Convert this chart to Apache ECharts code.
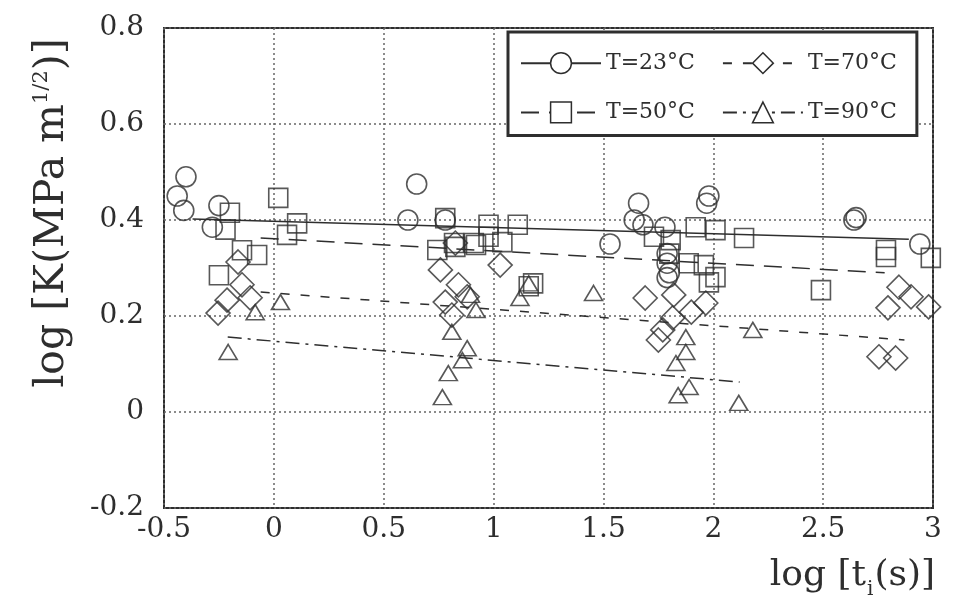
<!DOCTYPE html>
<html>
<head>
<meta charset="utf-8">
<script src="https://cdn.jsdelivr.net/npm/echarts@6/dist/echarts.min.js"></script>
<style>
  html, body { margin: 0; padding: 0; background: #fff; }
  #chart { width: 955px; height: 606px; }
</style>
</head>
<body>
<div id="chart"></div>
<script>
// log K vs log t_i, four temperatures
const legendNames = ['T=23°C', 'T=70°C', 'T=50°C', 'T=90°C']
const xTicks = [-0.5, 3, 0.5]   // min, max, step
const yTicks = [-0.2, 0.8, 0.2]

const t23 = [[-0.40,0.49],[-0.44,0.45],[-0.41,0.42],[-0.25,0.43],[-0.28,0.385],[0.61,0.40],[0.65,0.475],
  [0.78,0.40],[1.53,0.35],[1.64,0.40],[1.66,0.435],[1.68,0.39],[1.78,0.385],[1.79,0.33],[1.79,0.31],
  [1.80,0.29],[1.79,0.28],[1.97,0.435],[1.98,0.45],[2.64,0.40],[2.65,0.405],[2.94,0.35]]
const t50 = [[-0.25,0.285],[-0.22,0.38],[-0.20,0.415],[-0.145,0.337],[-0.076,0.327],[0.02,0.446],[0.06,0.369],
  [0.106,0.393],[0.744,0.3375],[0.78,0.404],[0.82,0.352],[0.826,0.344],[0.91,0.352],[0.92,0.348],[0.977,0.39],
  [0.977,0.365],[1.04,0.354],[1.11,0.39],[1.18,0.268],[1.16,0.262],[1.73,0.365],[1.806,0.358],[1.80,0.33],
  [1.888,0.31],[1.92,0.385],[1.957,0.306],[1.98,0.27],[2.01,0.379],[2.01,0.281],[2.14,0.3625],[2.49,0.254],
  [2.786,0.3375],[2.786,0.323],[2.99,0.321]]
const t70 = [[-0.254,0.206],[-0.213,0.233],[-0.163,0.3125],[-0.145,0.265],[-0.108,0.238],[0.758,0.296],
  [0.78,0.229],[0.81,0.202],[0.826,0.352],[0.84,0.265],[0.88,0.24],[1.03,0.306],[1.69,0.2375],[1.75,0.15],
  [1.77,0.171],[1.815,0.196],[1.82,0.244],[1.90,0.208],[1.966,0.227],[2.754,0.115],[2.795,0.217],[2.83,0.1125],
  [2.845,0.26],[2.90,0.24],[2.98,0.219]]
const t90 = [[-0.208,0.125],[-0.085,0.208],[0.03,0.229],[0.767,0.031],[0.794,0.081],[0.81,0.167],[0.858,0.108],
  [0.88,0.133],[0.895,0.244],[0.92,0.2125],[1.12,0.2375],[1.16,0.268],[1.455,0.248],[1.83,0.102],[1.84,0.035],
  [1.875,0.156],[1.875,0.125],[1.89,0.052],[2.116,0.019],[2.18,0.171]]

// fitted lines (end points)
const fit23 = [[-0.37,0.402],[2.89,0.36]]
const fit50 = [[-0.06,0.3625],[2.78,0.29]]
const fit70 = [[-0.06,0.25],[2.87,0.15]]
const fit90 = [[-0.21,0.156],[2.12,0.0625]]

const ink = '#2e2e2e'
const serif = 'DejaVu Serif'

var myChart = echarts.init(document.getElementById('chart'))

function fitLine(name, data, symbol, dash){
  return {
    name: name, type: 'line', data: data, symbol: symbol, showSymbol: false,
    lineStyle: {color: ink, width: 1.5, type: dash},
    itemStyle: {color: ink},
    silent: true, z: 2
  }
}
function points(name, data, symbol, size){
  return {
    name: name, type: 'scatter', data: data, symbol: symbol, symbolSize: size,
    itemStyle: {color: 'rgba(0,0,0,0)', borderColor: ink, borderWidth: 1.6},
    z: 3
  }
}

myChart.setOption({
  backgroundColor: '#fff',
  animation: false,
  grid: {left: 164, right: 22, top: 28, bottom: 98, show: true, borderColor: ink, borderWidth: 2},
  xAxis: {
    type: 'value', min: xTicks[0], max: xTicks[1], interval: xTicks[2],
    axisLine: {show: false}, axisTick: {show: false},
    axisLabel: {color: ink, fontFamily: serif, fontSize: 28, margin: 8},
    splitLine: {lineStyle: {color: '#666', type: [2, 3], width: 1.5}}
  },
  yAxis: {
    type: 'value', min: yTicks[0], max: yTicks[1], interval: yTicks[2],
    axisLine: {show: false}, axisTick: {show: false},
    axisLabel: {color: ink, fontFamily: serif, fontSize: 28, margin: 20},
    splitLine: {lineStyle: {color: '#666', type: [2, 3], width: 1.5}}
  },
  legend: {
    data: legendNames,
    left: 508, top: 32, width: 380,
    padding: [20, 20, 12, 12],
    itemWidth: 80, itemHeight: 26, itemGap: 27,
    borderColor: ink, borderWidth: 3, backgroundColor: '#fff',
    itemStyle: {color: '#fff', borderColor: ink, borderWidth: 1.5},
    textStyle: {color: ink, fontFamily: serif, fontSize: 22},
    z: 10
  },
  series: [
    fitLine('T=23°C', fit23, 'circle', 'solid'),
    fitLine('T=50°C', fit50, 'rect', [18, 10]),
    fitLine('T=70°C', fit70, 'diamond', [9, 11]),
    fitLine('T=90°C', fit90, 'triangle', [14, 6, 3, 6]),
    points('T=23°C', t23, 'circle', 20),
    points('T=50°C', t50, 'rect', 19),
    points('T=70°C', t70, 'diamond', 24),
    points('T=90°C', t90, 'triangle', [18, 15])
  ],
  graphic: [
    {
      type: 'text', x: 52, y: 213, rotation: Math.PI / 2,
      style: {
        text: 'log [K(MPa m{sup|1/2})]',
        fill: ink, font: '41px "DejaVu Serif"', align: 'center', verticalAlign: 'middle',
        rich: {sup: {fontSize: 21, fontFamily: serif, fill: ink, verticalAlign: 'top', padding: [0, 0, 20, 0]}}
      }
    },
    {
      type: 'text', x: 935, y: 576,
      style: {
        text: 'log [t{sub|i}(s)]',
        fill: ink, font: '36px "DejaVu Serif"', align: 'right', verticalAlign: 'middle',
        rich: {sub: {fontSize: 20, fontFamily: serif, fill: ink, verticalAlign: 'bottom', padding: [28, 1, 0, 1]}}
      }
    }
  ]
})
</script>
</body>
</html>
